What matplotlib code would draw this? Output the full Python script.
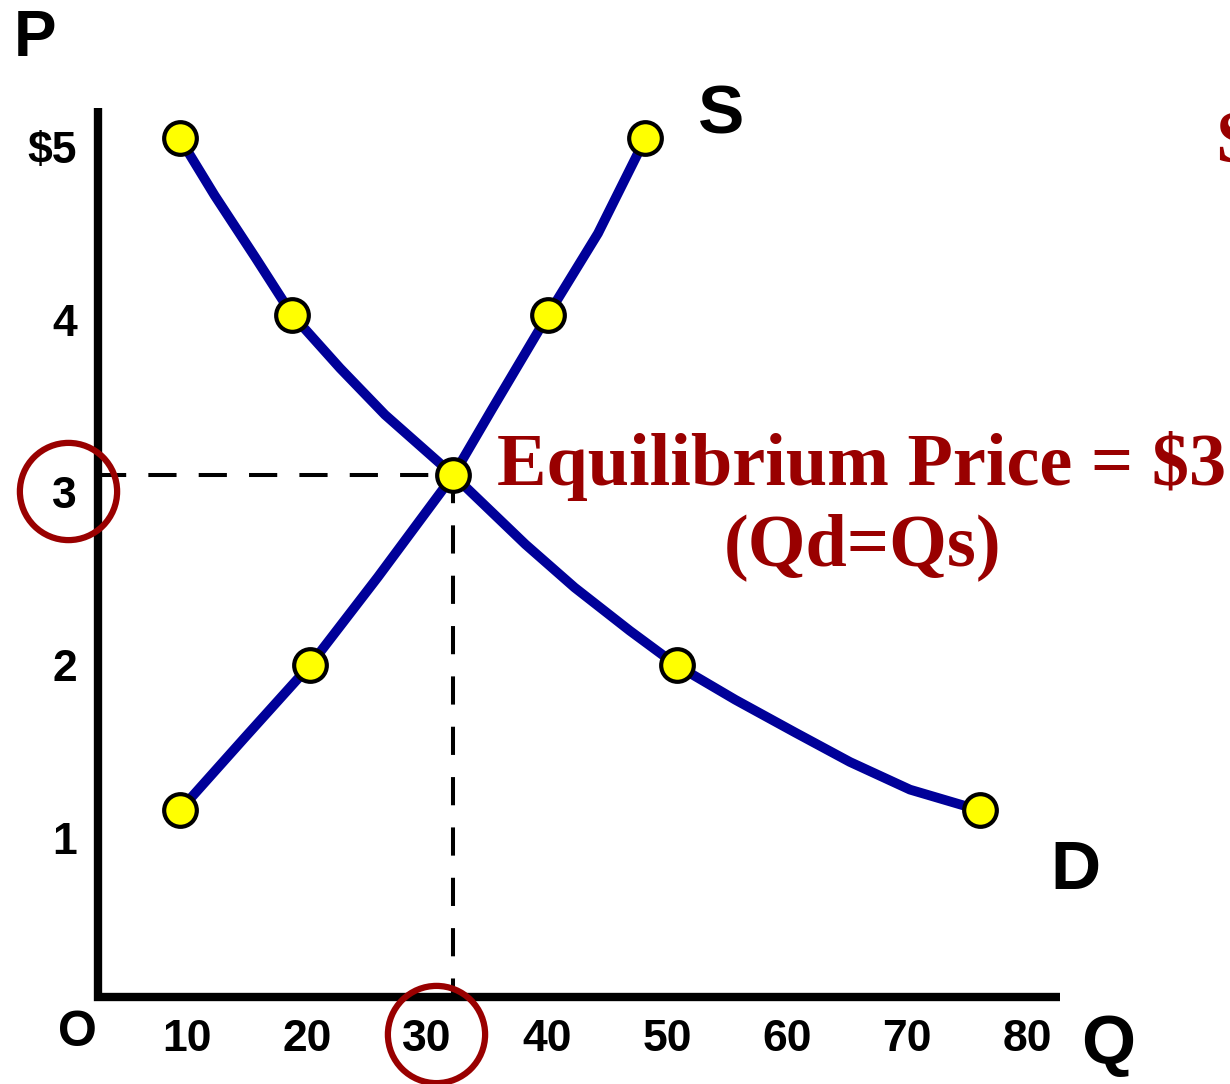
import numpy as np
import matplotlib.pyplot as plt

# supply / demand curves (Q, P)
supply_q = [9.4, 14.8, 20.25, 25.9, 32.2, 35.4, 40.1, 44.25, 48.2]
supply_p = [1.16, 1.58, 2.0, 2.51, 3.1, 3.48, 4.03, 4.5, 5.05]
demand_q = [9.4, 12.3, 15.7, 18.75, 22.75, 26.5, 32.2, 38.2, 42.3, 46.9, 50.8, 55.7, 60.7, 65.25, 70.25, 76.1]
demand_p = [5.05, 4.72, 4.36, 4.03, 3.72, 3.45, 3.1, 2.7, 2.45, 2.2, 2.0, 1.8, 1.61, 1.44, 1.28, 1.16]

# yellow dots
supply_dot_q = [9.4, 20.25, 40.1, 48.2]
supply_dot_p = [1.16, 2.0, 4.03, 5.05]
demand_dot_q = [9.4, 18.75, 50.8, 76.1]
demand_dot_p = [5.05, 4.03, 2.0, 1.16]
eq_q, eq_p = 32.2, 3.1

x_ticks = [10, 20, 30, 40, 50, 60, 70, 80]
x_labels = ['10', '20', '30', '40', '50', '60', '70', '80']
y_ticks = [5, 4, 3, 2, 1]
y_labels = ['$5', '4', '3', '2', '1']

red = '#990000'
navy = '#000099'

fig = plt.figure(figsize=(12.3, 10.84), dpi=100)
ax = fig.add_axes([0, 0, 1, 1])
ax.set_xlim(-5.583, 96.917)
ax.set_ylim(-0.424, 5.851)
ax.axis('off')

# axes lines
ax.plot([2.58, 2.58, 82.75], [5.225, 0.08, 0.08], color='black', lw=6,
        solid_joinstyle='miter', solid_capstyle='butt', zorder=2)

# dashed guides
ax.plot([2.58, eq_q], [eq_p, eq_p], color='black', lw=2.9, dashes=(7, 5.5), zorder=1)
ax.plot([eq_q, eq_q], [eq_p, 0.08], color='black', lw=2.9, dashes=(7, 5.5), zorder=1)

# curves
ax.plot(supply_q, supply_p, color=navy, lw=7, solid_capstyle='butt', solid_joinstyle='round', zorder=3)
ax.plot(demand_q, demand_p, color=navy, lw=7, solid_capstyle='butt', solid_joinstyle='round', zorder=3)

dots_q = supply_dot_q + demand_dot_q + [eq_q]
dots_p = supply_dot_p + demand_dot_p + [eq_p]
ax.plot(dots_q, dots_p, 'o', ms=23.5, mfc='yellow', mec='black', mew=3, zorder=4)

# tick labels
tick_font = dict(family='Liberation Sans', weight='bold', fontsize=32)
for q, lab in zip(x_ticks, x_labels):
    ax.text(q, -0.165, lab, ha='center', va='center', **tick_font)
for p, lab in zip(y_ticks, y_labels):
    ax.text(0.85, p - 0.025, lab, ha='right', va='center', **tick_font)
ax.text(0.9, -0.13, 'O', ha='center', va='center', family='Liberation Sans',
        weight='bold', fontsize=36)

big_font = dict(family='Liberation Sans', weight='bold', fontsize=50)
ax.text(-2.7, 5.625, 'P', ha='center', va='center', family='Liberation Sans',
        weight='bold', fontsize=46)
ax.text(54.5, 5.18, 'S', ha='center', va='center', **big_font)
ax.text(84.0, 0.81, 'D', ha='center', va='center', **big_font)
ax.text(86.75, -0.2, 'Q', ha='center', va='center', **big_font)

# red circles on the equilibrium values
ax.plot([0.08, 30.75], [3.01, -0.135], 'o', ms=70, mfc='none', mec=red, mew=4.5, zorder=5)

serif = dict(family='Liberation Serif', weight='bold', color=red, fontsize=53.5)
ax.text(35.85, 3.045, 'Equilibrium Price = $3', ha='left', va='baseline', **serif)
ax.text(66.3, 2.58, '(Qd=Qs)', ha='center', va='baseline', **serif)
ax.text(95.7, 4.91, 'S', ha='left', va='baseline', **serif)

fig.savefig('out.png', dpi=100)
